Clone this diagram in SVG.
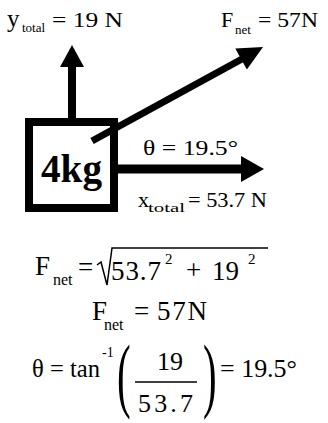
<svg xmlns="http://www.w3.org/2000/svg" width="328" height="423" viewBox="0 0 328 423">
<style>
text{font-family:"Liberation Serif","Times New Roman",serif;fill:#000}
.lbl{font-size:22px}
.sub{font-size:13px}
.eq{font-size:27px}
.esub{font-size:16px}
.sup{font-size:15px}
</style>
<rect width="328" height="423" fill="#fff"/>
<g id="connectors">
<g id="arrow-y">
<rect x="68" y="66" width="8" height="54" fill="#000"/>
<polygon points="60,67 72,45 84,67" fill="#000"/>
</g>
<g id="arrow-fnet">
<line x1="92" y1="141" x2="242" y2="59" stroke="#000" stroke-width="7"/>
<polygon points="235.3,48.5 263,47 246.9,69.5" fill="#000"/>
</g>
<g id="arrow-x">
<rect x="116" y="164.5" width="128" height="9" fill="#000"/>
<polygon points="241,156 264,169 241,182" fill="#000"/>
</g>
</g>
<g id="box">
<rect x="29" y="122" width="85" height="86" fill="none" stroke="#000" stroke-width="8"/>
<text x="41" y="182" font-size="40" font-weight="bold" textLength="61" lengthAdjust="spacingAndGlyphs">4kg</text>
</g>
<g id="label-y">
<text x="7" y="27" font-size="25">y</text>
<text x="22" y="32" class="sub">total</text>
<text x="52" y="27" class="lbl" textLength="71" lengthAdjust="spacingAndGlyphs">= 19 N</text>
</g>
<g id="label-fnet">
<text x="221" y="27" class="lbl">F</text>
<text x="235" y="34" class="sub">net</text>
<text x="258" y="27" class="lbl" textLength="60" lengthAdjust="spacingAndGlyphs">= 57N</text>
</g>
<g id="label-theta">
<text x="143" y="155" font-size="20" textLength="95" lengthAdjust="spacingAndGlyphs">θ = 19.5°</text>
</g>
<g id="label-x">
<text x="138" y="207" font-size="22">x</text>
<text x="148" y="212" class="sub" textLength="37" lengthAdjust="spacingAndGlyphs">total</text>
<text x="188" y="207" class="lbl" textLength="79" lengthAdjust="spacingAndGlyphs">= 53.7 N</text>
</g>
<g id="eq1">
<text x="35" y="275" class="eq">F</text>
<text x="53" y="285" class="esub">net</text>
<text x="78" y="276" class="eq">=</text>
<path d="M97,265 L101,262 L107,285 L112,248 L268,248" fill="none" stroke="#000" stroke-width="1.5"/>
<text x="111" y="280" class="eq" textLength="50" lengthAdjust="spacing">53.7</text>
<text x="165" y="264" class="sup">2</text>
<text x="186" y="279" class="eq">+</text>
<text x="212" y="280" class="eq">19</text>
<text x="248" y="264" class="sup">2</text>
</g>
<g id="eq2">
<text x="92" y="320" class="eq">F</text>
<text x="104" y="330" class="esub">net</text>
<text x="134" y="320" class="eq">=</text>
<text x="157" y="320" class="eq" textLength="50" lengthAdjust="spacing">57N</text>
</g>
<g id="eq3">
<text x="32" y="377" font-size="26" textLength="68" lengthAdjust="spacingAndGlyphs">θ = tan</text>
<text x="102" y="357" font-size="14">-1</text>
<text transform="translate(117,402) scale(0.5,1)" font-size="82">(</text>
<text x="157" y="370" font-size="26">19</text>
<line x1="135" y1="382" x2="197" y2="382" stroke="#000" stroke-width="1.5"/>
<text x="138" y="412" font-size="26" textLength="55" lengthAdjust="spacing">53.7</text>
<text transform="translate(203,402) scale(0.5,1)" font-size="82">)</text>
<text x="220" y="377" font-size="26" textLength="77" lengthAdjust="spacingAndGlyphs">= 19.5°</text>
</g>
</svg>
